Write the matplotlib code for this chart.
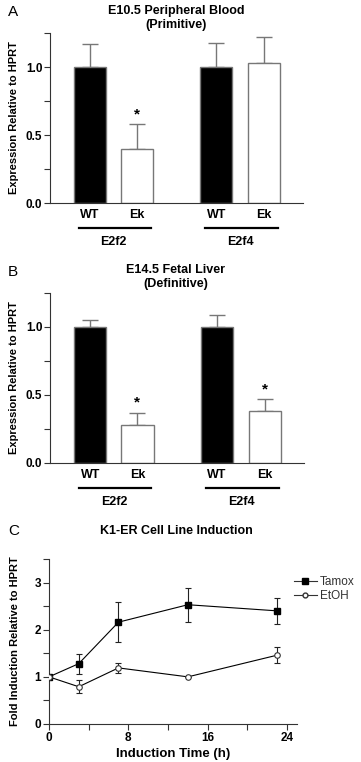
"""
plot.py — three-panel E2f expression figure (A, B bar charts; C time course).
"""

import matplotlib
matplotlib.use("Agg")
import matplotlib.pyplot as plt
from matplotlib.lines import Line2D
from matplotlib.ticker import MultipleLocator

# ---------------------------------------------------------------------------
# Data
# ---------------------------------------------------------------------------

genes       = ["E2f2", "E2f4"]
genotypes   = ["WT", "Ek"]

pb_wt       = [1.00, 1.00]
pb_wt_err   = [0.17, 0.18]
pb_ek       = [0.40, 1.03]
pb_ek_err   = [0.18, 0.19]
pb_sig      = [True, False]

fl_wt       = [1.00, 1.00]
fl_wt_err   = [0.05, 0.09]
fl_ek       = [0.28, 0.385]
fl_ek_err   = [0.09, 0.085]
fl_sig      = [True, True]

time_h      = [0, 3, 7, 14, 23]
tamox       = [1.00, 1.28, 2.16, 2.53, 2.40]
tamox_err   = [0.00, 0.21, 0.43, 0.36, 0.28]
etoh        = [1.00, 0.79, 1.19, 1.00, 1.46]
etoh_err    = [0.00, 0.14, 0.11, 0.00, 0.17]

# ---------------------------------------------------------------------------
# Style
# ---------------------------------------------------------------------------

plt.rcParams.update({
    "font.family": ["Liberation Sans", "DejaVu Sans"],
    "font.size": 8.5,
    "font.weight": "bold",
    "axes.labelweight": "bold",
    "axes.labelsize": 8,
    "axes.linewidth": 0.8,
    "axes.edgecolor": "#333333",
    "axes.spines.top": False,
    "axes.spines.right": False,
    "xtick.color": "#333333",
    "ytick.color": "#333333",
    "xtick.labelcolor": "black",
    "ytick.labelcolor": "black",
})

W, H = 361, 762
fig = plt.figure(figsize=(W / 100, H / 100), dpi=100)


def px_axes(left, top, right, bottom):
    """Axes from pixel box (origin top-left)."""
    return fig.add_axes([left / W, 1 - bottom / H, (right - left) / W, (bottom - top) / H])


WT_X = [1.25, 5.19]
EK_X = [2.72, 6.69]


def bar_panel(ax, wt, wt_err, ek, ek_err, sig):
    ax.bar(WT_X, wt, width=1.0, color="black", edgecolor="#777777", linewidth=1.0, zorder=2)
    ax.bar(EK_X, ek, width=1.0, color="white", edgecolor="#777777", linewidth=1.0, zorder=2)
    for xs, ys, es in [(WT_X, wt, wt_err), (EK_X, ek, ek_err)]:
        _, caps, stems = ax.errorbar(xs, ys, yerr=[[0] * len(es), es], fmt="none",
                                     ecolor="#777777", elinewidth=1.0,
                                     capsize=5.5, capthick=1.0, zorder=1)
        for c in caps:
            c.set_color("#333333")
    for x, y, e, s in zip(EK_X, ek, ek_err, sig):
        if s:
            ax.text(x, y + e + 0.02, "*", ha="center", va="bottom", fontsize=11)

    ax.set_xlim(0, 7.9)
    ax.set_ylim(0, 1.25)
    ax.yaxis.set_major_locator(MultipleLocator(0.5))
    ax.yaxis.set_minor_locator(MultipleLocator(0.25))
    ax.yaxis.set_major_formatter("{x:.1f}")
    ax.tick_params(axis="y", which="both", length=4, width=0.8, pad=1.5)
    ax.set_xticks(WT_X + EK_X, genotypes[:1] * 2 + genotypes[1:] * 2)
    ax.tick_params(axis="x", length=0, pad=4, labelsize=9)
    ax.set_ylabel("Expression Relative to HPRT")
    ax.yaxis.set_label_coords(-0.122, 0.5)

    trans = ax.get_xaxis_transform()
    for w, e, g in zip(WT_X, EK_X, genes):
        ax.add_line(Line2D([w - 0.35, e + 0.43], [-0.147, -0.147], transform=trans,
                           color="black", linewidth=1.6, clip_on=False))
        ax.text((w + e) / 2, -0.232, g, transform=trans, ha="center", va="center", fontsize=9)


# ---------------------------------------------------------------------------
# Panel A — E10.5 peripheral blood
# ---------------------------------------------------------------------------

ax_a = px_axes(50, 33, 303, 203)
bar_panel(ax_a, pb_wt, pb_wt_err, pb_ek, pb_ek_err, pb_sig)
fig.text(176 / W, 1 - 18 / H, "E10.5 Peripheral Blood\n(Primitive)",
         ha="center", va="center", fontsize=9, linespacing=1.25)
fig.text(8 / W, 1 - 12 / H, "A", ha="left", va="center", fontsize=11, fontweight="normal")

# ---------------------------------------------------------------------------
# Panel B — E14.5 fetal liver
# ---------------------------------------------------------------------------

ax_b = px_axes(50, 293, 304, 463)
bar_panel(ax_b, fl_wt, fl_wt_err, fl_ek, fl_ek_err, fl_sig)
fig.text(176 / W, 1 - 277 / H, "E14.5 Fetal Liver\n(Definitive)",
         ha="center", va="center", fontsize=9, linespacing=1.25)
fig.text(8 / W, 1 - 272 / H, "B", ha="left", va="center", fontsize=11, fontweight="normal")

# ---------------------------------------------------------------------------
# Panel C — K1-ER induction time course
# ---------------------------------------------------------------------------

ax_c = px_axes(49, 559, 297, 724)
ax_c.errorbar(time_h, tamox, yerr=tamox_err, color="black", linewidth=0.8,
              marker="s", markersize=4.5, markerfacecolor="black", markeredgecolor="black",
              ecolor="#222222", elinewidth=0.8, capsize=2.5, capthick=0.8, zorder=3)
ax_c.errorbar(time_h, etoh, yerr=etoh_err, color="black", linewidth=0.8,
              marker="o", markersize=4, markerfacecolor="white", markeredgecolor="#333333",
              markeredgewidth=0.8, ecolor="#222222", elinewidth=0.8, capsize=2.5,
              capthick=0.8, zorder=3)
ax_c.set_xlim(0, 25)
ax_c.set_ylim(0, 3.5)
ax_c.xaxis.set_major_locator(MultipleLocator(8))
ax_c.xaxis.set_minor_locator(MultipleLocator(4))
ax_c.yaxis.set_major_locator(MultipleLocator(1))
ax_c.yaxis.set_minor_locator(MultipleLocator(0.5))
ax_c.tick_params(which="both", length=4, width=0.8, pad=1.5, labelsize=8.5)
ax_c.set_xlabel("Induction Time (h)", labelpad=3, fontsize=9.5)
ax_c.set_ylabel("Fold Induction Relative to HPRT")
ax_c.yaxis.set_label_coords(-0.117, 0.5)

handles = [
    Line2D([], [], color="#333333", linewidth=0.8, marker="s", markersize=4,
           markerfacecolor="black", markeredgecolor="black"),
    Line2D([], [], color="#333333", linewidth=0.8, marker="o", markersize=3.5,
           markerfacecolor="white", markeredgecolor="#333333"),
]
leg = ax_c.legend(handles, ["Tamox", "EtOH"], loc="upper left", bbox_to_anchor=(0.965, 0.93),
                  frameon=False, handlelength=1.9, handletextpad=0.3, borderpad=0,
                  labelspacing=0.1, prop={"weight": "normal", "size": 8.5})
for t in leg.get_texts():
    t.set_color("#333333")

fig.text(176 / W, 1 - 531 / H, "K1-ER Cell Line Induction",
         ha="center", va="center", fontsize=9)
fig.text(8 / W, 1 - 531 / H, "C", ha="left", va="center", fontsize=11, fontweight="normal")

fig.savefig("out.png", dpi=100)
